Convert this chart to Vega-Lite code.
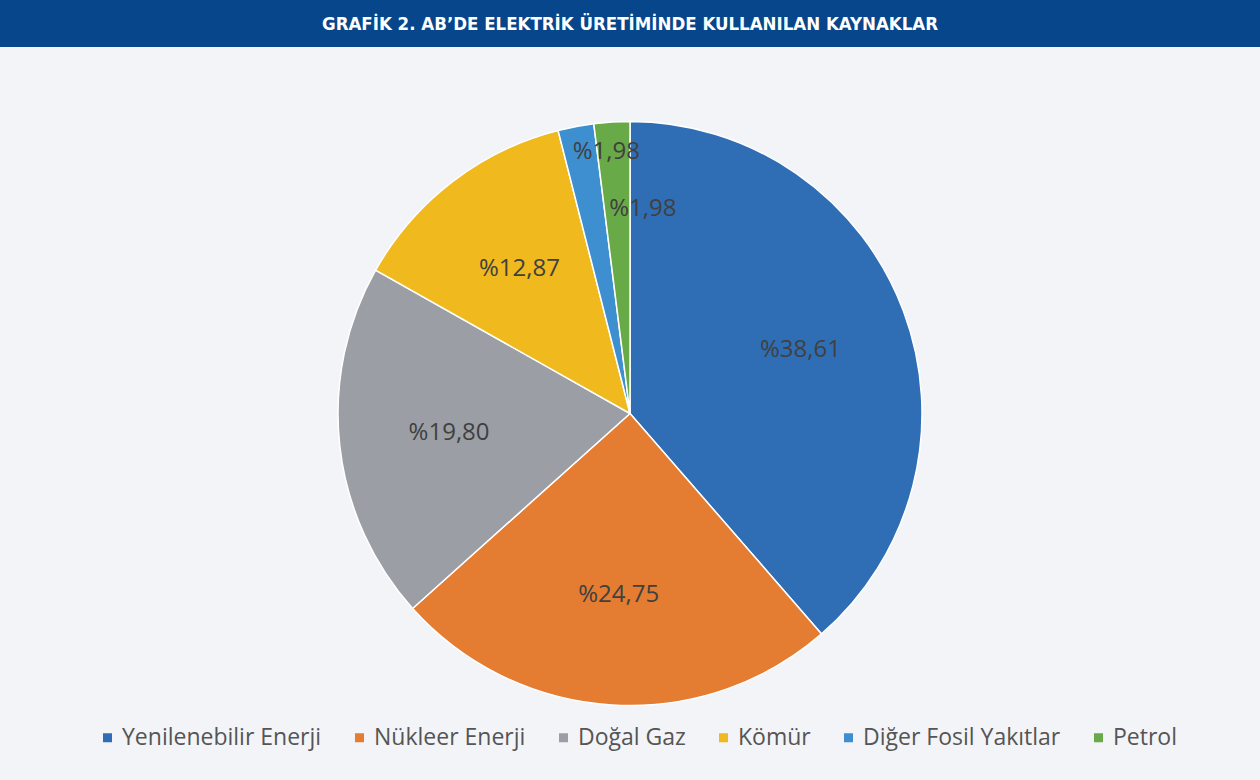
{
  "$schema": "https://vega.github.io/schema/vega-lite/v6.json",
  "padding": 0,
  "background": "#f3f4f8",
  "spacing": 0,
  "config": {"view": {"stroke": null}, "concat": {"spacing": 0}},
  "vconcat": [
    {
      "width": 1260,
      "height": 47,
      "view": {"fill": "#07468a", "stroke": null},
      "data": {"values": [{"t": "GRAFİK 2. AB’DE ELEKTRİK ÜRETİMİNDE KULLANILAN KAYNAKLAR"}]},
      "mark": {"type": "text", "font": "DejaVu Sans Condensed, Roboto, sans-serif", "fontSize": 18.5, "fontWeight": "bold", "color": "#ffffff", "align": "center", "baseline": "middle"},
      "encoding": {"text": {"field": "t"}}
    },
    {
      "width": 1260,
      "height": 733,
      "data": {
        "values": [
          {"kaynak": "Yenilenebilir Enerji", "oran": 38.61, "etiket": "%38,61", "sira": 1},
          {"kaynak": "Nükleer Enerji", "oran": 24.75, "etiket": "%24,75", "sira": 2},
          {"kaynak": "Doğal Gaz", "oran": 19.80, "etiket": "%19,80", "sira": 3},
          {"kaynak": "Kömür", "oran": 12.87, "etiket": "%12,87", "sira": 4},
          {"kaynak": "Diğer Fosil Yakıtlar", "oran": 1.98, "etiket": "%1,98", "sira": 5},
          {"kaynak": "Petrol", "oran": 1.98, "etiket": "%1,98", "sira": 6}
        ]
      },
      "encoding": {
        "theta": {"field": "oran", "type": "quantitative", "stack": true},
        "order": {"field": "sira", "type": "quantitative"}
      },
      "layer": [
        {
          "mark": {"type": "arc", "outerRadius": 292, "stroke": "#ffffff", "strokeWidth": 1.5},
          "encoding": {
            "color": {
              "field": "kaynak",
              "type": "nominal",
              "sort": ["Yenilenebilir Enerji", "Nükleer Enerji", "Doğal Gaz", "Kömür", "Diğer Fosil Yakıtlar", "Petrol"],
              "scale": {
                "domain": ["Yenilenebilir Enerji", "Nükleer Enerji", "Doğal Gaz", "Kömür", "Diğer Fosil Yakıtlar", "Petrol"],
                "range": ["#2f6eb5", "#e47c32", "#9b9fa5", "#f0b91e", "#3d8fcf", "#67aa47"]
              },
              "legend": {
                "title": null,
                "orient": "none",
                "legendX": 96,
                "legendY": 726,
                "direction": "horizontal",
                "columns": 6,
                "symbolType": "square",
                "symbolSize": 81,
                "symbolStrokeWidth": 0,
                "labelFont": "Open Sans",
                "labelFontSize": 23,
                "labelColor": "#555555",
                "labelLimit": 400,
                "labelOffset": 3,
                "columnPadding": 26
              }
            }
          }
        },
        {
          "transform": [{"filter": "datum.sira <= 4"}],
          "mark": {"type": "text", "radius": 182, "font": "Open Sans", "fontSize": 24, "color": "#404040"},
          "encoding": {"text": {"field": "etiket"}}
        },
        {
          "transform": [{"filter": "datum.sira == 5"}],
          "mark": {"type": "text", "radius": 262, "dx": -40, "font": "Open Sans", "fontSize": 24, "color": "#404040"},
          "encoding": {"text": {"field": "etiket"}}
        },
        {
          "transform": [{"filter": "datum.sira == 6"}],
          "mark": {"type": "text", "radius": 205, "font": "Open Sans", "fontSize": 24, "color": "#404040"},
          "encoding": {"text": {"field": "etiket"}}
        }
      ]
    }
  ]
}
